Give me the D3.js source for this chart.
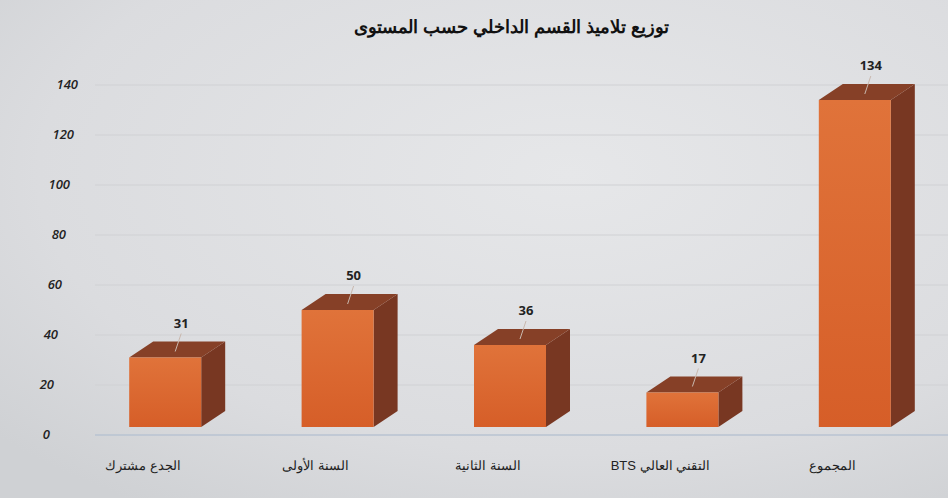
<!DOCTYPE html>
<html><head><meta charset="utf-8">
<script src="https://cdn.jsdelivr.net/npm/d3@7"></script>
<style>body{margin:0;background:#dcdde0;}svg{display:block;}</style>
</head><body>
<svg id="c" width="948" height="498"></svg>
<script>
const categories = ["الجدع مشترك", "السنة الأولى", "السنة الثانية", "التقني العالي BTS", "المجموع"];
const values = [31, 50, 36, 17, 134];
const yTicks = [0, 20, 40, 60, 80, 100, 120, 140];
const title = "توزيع تلاميذ القسم الداخلي حسب المستوى";

const svg = d3.select("#c");
const W = 948, H = 498;
const defs = svg.append("defs");
const bg = defs.append("radialGradient").attr("id","bg").attr("cx","0.6").attr("cy","0.35").attr("r","0.8");
bg.append("stop").attr("offset","0").attr("stop-color","#e6e7e9");
bg.append("stop").attr("offset","0.7").attr("stop-color","#dbdcdf");
bg.append("stop").attr("offset","1").attr("stop-color","#cfd1d4");
const fg = defs.append("linearGradient").attr("id","front").attr("x1","0").attr("y1","0").attr("x2","0").attr("y2","1");
fg.append("stop").attr("offset","0").attr("stop-color","#e0733a");
fg.append("stop").attr("offset","1").attr("stop-color","#d65e28");

svg.append("rect").attr("width",W).attr("height",H).attr("fill","url(#bg)");

const y = d3.scaleLinear().domain([0,140]).range([435,85]);
const x = d3.scaleBand().domain(categories).range([79,941]).padding(0);
const labelX = d3.scaleLinear().domain([0,140]).range([50,78]);
const bw = 72, dx = 24, dy = 16;

// gridlines
svg.append("g").selectAll("line").data(yTicks).join("line")
  .attr("x1",95).attr("x2",W).attr("y1",d=>y(d)).attr("y2",d=>y(d))
  .attr("stroke", d=>d===0?"#b9c3d2":"#d0d1d4").attr("stroke-width",d=>d===0?1.5:1);

// y labels
svg.append("g").selectAll("text").data(yTicks).join("text")
  .attr("x",d=>labelX(d)).attr("y",d=>y(d)+4).attr("text-anchor","end")
  .attr("font-family","Open Sans, sans-serif").attr("font-size",13).attr("font-style","italic").attr("font-weight",600)
  .attr("fill","#222").text(d=>d);

// title
svg.append("text").attr("x",512).attr("y",33).attr("text-anchor","middle").attr("direction","rtl")
  .attr("font-family","Liberation Sans, Arial, sans-serif").attr("font-size",18).attr("font-weight","bold")
  .attr("fill","#111").text(title);

const bars = svg.append("g").selectAll("g").data(categories).join("g");
bars.each(function(c,i){
  const g = d3.select(this);
  const cx = x(c) + x.bandwidth()/2;
  const x0 = cx - bw/2, x1 = cx + bw/2;
  const yt = y(values[i]), yb = y(0) - 8;
  g.append("path").attr("d",`M${x1},${yt}L${x1+dx},${yt-dy}L${x1+dx},${yb-dy}L${x1},${yb}Z`).attr("fill","#783722");
  g.append("path").attr("d",`M${x0},${yt}L${x0+dx},${yt-dy}L${x1+dx},${yt-dy}L${x1},${yt}Z`).attr("fill","#864027");
  g.append("rect").attr("x",x0).attr("y",yt).attr("width",bw).attr("height",yb-yt).attr("fill","url(#front)");
  const lx = cx + dx/2 - 2, ly = yt - dy/2;
  g.append("line").attr("x1",lx).attr("y1",ly+2).attr("x2",lx+6).attr("y2",ly-16).attr("stroke","#c9b8ae").attr("stroke-width",1);
  g.append("text").attr("x",lx+6).attr("y",ly-22).attr("text-anchor","middle")
    .attr("font-family","Open Sans, sans-serif").attr("font-size",13).attr("font-weight",700).attr("fill","#222")
    .text(values[i]);
  g.append("text").attr("x",cx-22).attr("y",470).attr("text-anchor","middle").attr("direction","rtl")
    .attr("font-family","Liberation Sans, Arial, sans-serif").attr("font-size",13).attr("fill","#222").text(c);
});
</script>
</body></html>
